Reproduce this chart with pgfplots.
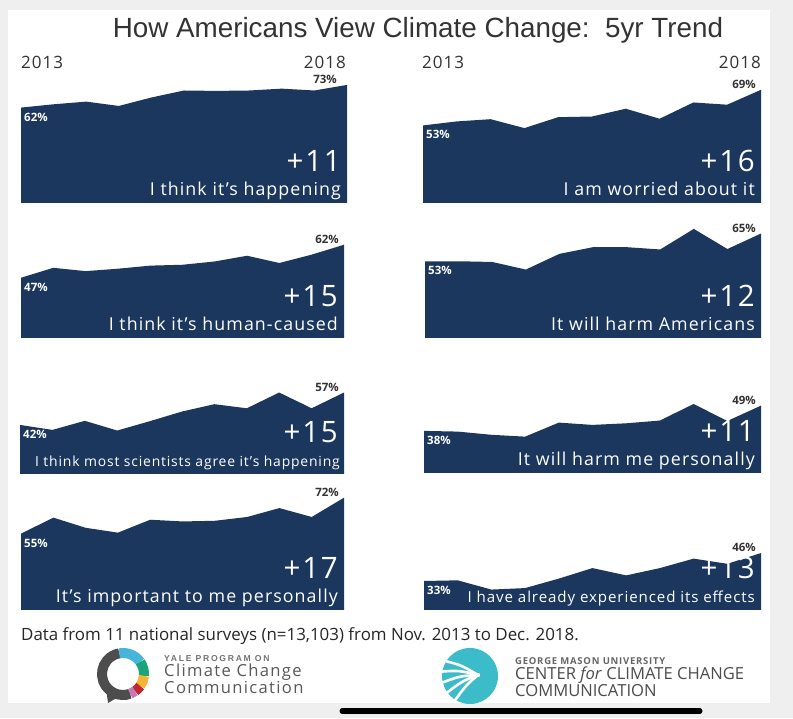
\documentclass[border=0pt]{standalone}
\usepackage{pgfplots}
\pgfplotsset{compat=1.18}
\usetikzlibrary{calc}
\usepackage{fontspec}
\setmainfont{Open Sans}
\newfontfamily\pf[LetterSpace=6]{Open Sans}
\newfontfamily\af{Liberation Sans}
\newfontfamily\lsf[LetterSpace=20]{Liberation Sans}
\newfontfamily\osl[LetterSpace=8]{Open Sans}
\definecolor{navy}{RGB}{27,55,94}
\definecolor{bggray}{RGB}{239,239,239}
\definecolor{txtgray}{RGB}{51,51,51}
\definecolor{yalegray}{RGB}{77,77,77}
\definecolor{yblue}{RGB}{72,180,218}
\definecolor{ygreen}{RGB}{26,165,122}
\definecolor{yyellow}{RGB}{244,180,52}
\definecolor{yred}{RGB}{192,39,50}
\definecolor{ypink}{RGB}{196,122,178}
\definecolor{gmuteal}{RGB}{60,188,200}
\pgfplotsset{
  panel/.style={scale only axis, axis lines=none, xtick=\empty, ytick=\empty,
    xmin=0, xmax=10, height=150pt, clip=false, anchor=south west},
}
\tikzset{
  startlab/.style={anchor=north west, font=\fontsize{11.5}{12}\selectfont\bfseries, text=white, inner sep=0pt, xshift=3pt, yshift=-5pt},
  endlab/.style={anchor=south east, font=\fontsize{11.5}{12}\selectfont\bfseries, text=txtgray, inner sep=0pt, xshift=-5pt, yshift=1pt},
  bignum/.style={anchor=base east, font=\pf\fontsize{29.5}{29.5}\selectfont, text=white, inner sep=0pt, xshift=-6pt, yshift=31pt},
  desc/.style={anchor=base east, font=\pf\fontsize{17.8}{18}\selectfont, text=white, inner sep=0pt, xshift=-6pt, yshift=7pt},
  year/.style={font=\pf\fontsize{17}{17}\selectfont, text=black!80, inner sep=0pt},
}
\begin{document}
\begin{tikzpicture}
\fill[bggray] (0pt,0pt) rectangle (793pt,718pt);
\fill[white] (8pt,15pt) rectangle (770pt,708pt);
\draw[black, line width=5pt, line cap=round] (342pt,7pt) -- (700pt,7pt);

\node[font=\af\fontsize{27.8}{28}\selectfont, text=txtgray, inner sep=0pt] at (418pt,688pt) {How Americans View Climate Change:\ \ 5yr Trend};

\node[year, anchor=west] at (21pt,656pt) {2013};
\node[year, anchor=east] at (346pt,656pt) {2018};
\node[year, anchor=west] at (422pt,656pt) {2013};
\node[year, anchor=east] at (761pt,656pt) {2018};

% Panel 1
\begin{axis}[panel, at={(21pt,515pt)}, width=326pt, ymin=15.7, ymax=88.5]
\addplot[fill=navy, draw=none] coordinates {(0,15.7) (0,62) (1,63.6) (2,64.9) (3,62.8) (4,66.9) (5,70.3) (6,70.1) (7,70.3) (8,71.2) (9,70.3) (10,73) (10,15.7)};
\node[startlab] at (axis cs:0,62) {62\%};
\node[endlab, xshift=-5pt] at (axis cs:10,73) {73\%};
\node[bignum] at (rel axis cs:1,0) {+11};
\node[desc] at (rel axis cs:1,0) {I think it’s happening};
\end{axis}

% Panel 2
\begin{axis}[panel, at={(423pt,515pt)}, width=338pt, ymin=18.2, ymax=85.5]
\addplot[fill=navy, draw=none] coordinates {(0,18.2) (0,53) (1,54.8) (2,55.8) (3,51.8) (4,56.7) (5,57) (6,60.5) (7,56) (8,63.3) (9,62.3) (10,69) (10,18.2)};
\node[startlab] at (axis cs:0,53) {53\%};
\node[endlab] at (axis cs:10,69) {69\%};
\node[bignum] at (rel axis cs:1,0) {+16};
\node[desc] at (rel axis cs:1,0) {I am worried about it};
\end{axis}

% Panel 3
\begin{axis}[panel, at={(21pt,380pt)}, width=323pt, ymin=19.6, ymax=87.8]
\addplot[fill=navy, draw=none] coordinates {(0,19.6) (0,47) (1,51.5) (2,50) (3,51.1) (4,52.5) (5,52.9) (6,54.4) (7,57) (8,53.7) (9,57.5) (10,62) (10,19.6)};
\node[startlab] at (axis cs:0,47) {47\%};
\node[endlab] at (axis cs:10,62) {62\%};
\node[bignum] at (rel axis cs:1,0) {+15};
\node[desc] at (rel axis cs:1,0) {I think it’s human-caused};
\end{axis}

% Panel 4
\begin{axis}[panel, at={(425pt,380pt)}, width=336pt, ymin=19.8, ymax=84.7]
\addplot[fill=navy, draw=none] coordinates {(0,19.8) (0,53) (1,53) (2,52.7) (3,49.4) (4,56.2) (5,59.1) (6,59.1) (7,58.1) (8,67) (9,58.3) (10,65) (10,19.8)};
\node[startlab] at (axis cs:0,53) {53\%};
\node[endlab] at (axis cs:10,65) {65\%};
\node[bignum] at (rel axis cs:1,0) {+12};
\node[desc] at (rel axis cs:1,0) {It will harm Americans};
\end{axis}

% Panel 5
\begin{axis}[panel, at={(20pt,244pt)}, width=324pt, ymin=19.3, ymax=88.7]
\addplot[fill=navy, draw=none] coordinates {(0,19.3) (0,42) (1,39.7) (2,43.9) (3,39.4) (4,43.7) (5,48.2) (6,51.6) (7,49.7) (8,57) (9,49.7) (10,57) (10,19.3)};
\node[startlab] at (axis cs:0,42) {42\%};
\node[endlab] at (axis cs:10,57) {57\%};
\node[bignum] at (rel axis cs:1,0) {+15};
\node[desc, font=\pf\fontsize{13.9}{15}\selectfont, xshift=2pt] at (rel axis cs:1,0) {I think most scientists agree it’s happening};
\end{axis}

% Panel 6
\begin{axis}[panel, at={(424pt,245pt)}, width=337pt, ymin=19.7, ymax=84.9]
\addplot[fill=navy, draw=none] coordinates {(0,19.7) (0,38) (1,37.7) (2,36.3) (3,35.5) (4,41.6) (5,40.6) (6,41.3) (7,42.5) (8,49.7) (9,42.3) (10,49) (10,19.7)};
\node[startlab] at (axis cs:0,38) {38\%};
\node[endlab] at (axis cs:10,49) {49\%};
\node[bignum] at (rel axis cs:1,0) {+11};
\node[desc] at (rel axis cs:1,0) {It will harm me personally};
\end{axis}

% Panel 7
\begin{axis}[panel, at={(21pt,108pt)}, width=323pt, ymin=19, ymax=89.8]
\addplot[fill=navy, draw=none] coordinates {(0,19) (0,55) (1,62.6) (2,57.8) (3,55.5) (4,61.6) (5,60.8) (6,61.1) (7,62.9) (8,67.1) (9,62.9) (10,72) (10,19)};
\node[startlab] at (axis cs:0,55) {55\%};
\node[endlab] at (axis cs:10,72) {72\%};
\node[bignum] at (rel axis cs:1,0) {+17};
\node[desc] at (rel axis cs:1,0) {It’s important to me personally};
\end{axis}

% Panel 8
\begin{axis}[panel, at={(424pt,108pt)}, width=337pt, ymin=19.5, ymax=89.3]
\addplot[fill=navy, draw=none] coordinates {(0,19.5) (0,33) (1,33.3) (2,29) (3,29.7) (4,34.1) (5,39) (6,35.6) (7,39) (8,43.4) (9,41) (10,46) (10,19.5)};
\node[startlab] at (axis cs:0,33) {33\%};
\node[endlab] at (axis cs:10,46) {46\%};
\node[bignum] at (rel axis cs:1,0) {+13};
\node[desc, font=\pf\fontsize{15.1}{15}\selectfont] at (rel axis cs:1,0) {I have already experienced its effects};
\end{axis}

\node[anchor=west, font=\fontsize{16.9}{17}\selectfont, text=black!85, inner sep=0pt] at (21pt,82pt) {Data from 11 national surveys (n=13,103) from Nov. 2013 to Dec. 2018.};

% Yale logo
\begin{scope}[shift={(123pt,44pt)}, line width=10pt]
\draw[yalegray] (290:21pt) arc[start angle=290, end angle=100, radius=21pt];
\draw[yblue] (100:21pt) arc[start angle=100, end angle=35, radius=21pt];
\draw[ygreen] (35:21pt) arc[start angle=35, end angle=-5, radius=21pt];
\draw[yyellow] (-5:21pt) arc[start angle=-5, end angle=-35, radius=21pt];
\draw[yred] (-35:21pt) arc[start angle=-35, end angle=-55, radius=21pt];
\draw[ypink] (-55:21pt) arc[start angle=-55, end angle=-70, radius=21pt];
\fill[yalegray] (-17pt,-14pt) -- (-15pt,-29pt) -- (-3pt,-22pt) -- cycle;
\end{scope}
\node[anchor=west, font=\lsf\bfseries\fontsize{8.6}{9}\selectfont, text=black!55, inner sep=0pt] at (164pt,59pt) {YALE PROGRAM ON};
\node[anchor=north west, align=left, font=\osl\fontsize{16.6}{13.5}\selectfont, text=black!65, inner sep=0pt] at (164pt,54pt) {Climate Change\\Communication};

% GMU logo
\begin{scope}[shift={(470pt,42pt)}]
\fill[gmuteal] (0,0) circle (28pt);
\foreach \a in {150,172,194,216,238} {
  \draw[white, line width=2.6pt] (8pt,1pt) .. controls ($(8pt,1pt)!0.5!(\a:30pt)+(0pt,3pt)$) .. (\a:31pt);
}
\fill[white] (8pt,1pt) circle (2.2pt);
\end{scope}
\node[anchor=west, font=\osl\bfseries\fontsize{9.5}{10}\selectfont, text=black!60, inner sep=0pt] at (515pt,57pt) {GEORGE MASON UNIVERSITY};
\node[anchor=north west, align=left, font=\fontsize{16.6}{14}\selectfont, text=black!70, inner sep=0pt] at (515pt,51pt) {CENTER \textit{for} CLIMATE CHANGE\\COMMUNICATION};

\pgfresetboundingbox
\useasboundingbox (0pt,0pt) rectangle (793pt,718pt);
\end{tikzpicture}
\end{document}
